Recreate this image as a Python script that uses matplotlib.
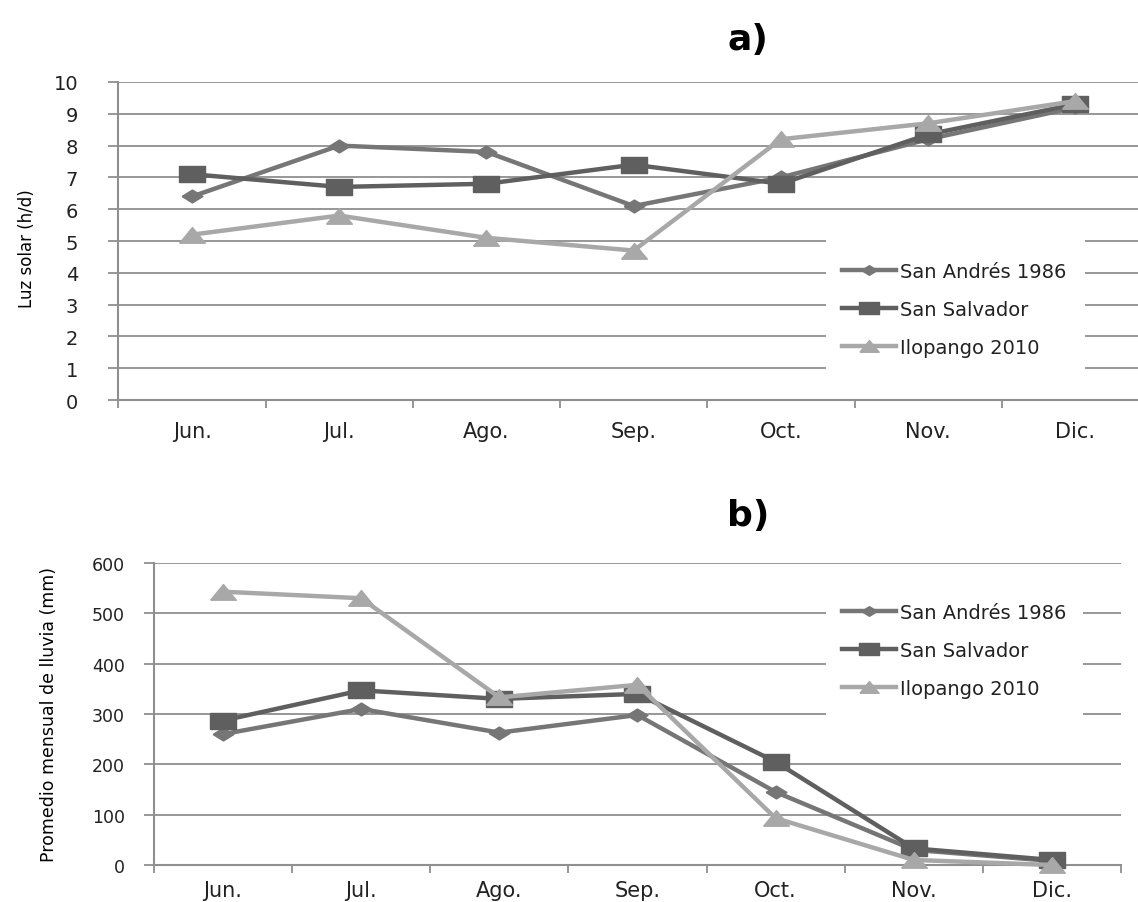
import matplotlib
matplotlib.use("Agg")
import matplotlib.pyplot as plt
from matplotlib.patches import Rectangle

months = ["Jun.", "Jul.", "Ago.", "Sep.", "Oct.", "Nov.", "Dic."]
series_names = ["San Andrés 1986", "San Salvador", "Ilopango 2010"]

sun_san_andres = [6.4, 8.0, 7.8, 6.1, 7.0, 8.2, 9.2]
sun_san_salvador = [7.1, 6.7, 6.8, 7.4, 6.8, 8.35, 9.3]
sun_ilopango = [5.2, 5.8, 5.1, 4.7, 8.2, 8.7, 9.4]

rain_san_andres = [260, 310, 263, 298, 145, 30, 8]
rain_san_salvador = [287, 347, 330, 340, 205, 33, 10]
rain_ilopango = [543, 530, 333, 358, 93, 10, 0]

colors = ["#767676", "#5f5f5f", "#a8a8a8"]
# markers are drawn wide (the original figure is horizontally stretched)
diamond = [(-1, 0), (0, 0.62), (1, 0), (0, -0.62), (-1, 0)]
square = [(-1, -0.66), (1, -0.66), (1, 0.66), (-1, 0.66), (-1, -0.66)]
triangle = [(-1, -0.6), (1, -0.6), (0, 0.62), (-1, -0.6)]
markers = [diamond, square, triangle]
msizes = [15, 18.5, 18.5]

GRID = "#8f8f8f"

fig = plt.figure(figsize=(11.38, 9.03), dpi=100)
x = list(range(len(months)))


def style_axes(ax, ymax, ystep, ylabsize, ypad, xpad):
    ax.set_xlim(-0.5, 6.5)
    ax.set_ylim(0, ymax)
    ax.set_yticks(list(range(0, ymax + 1, ystep)))
    ax.set_xticks([i - 0.5 for i in range(8)])
    ax.set_xticklabels([])
    ax.set_xticks(x, minor=True)
    ax.set_xticklabels(months, minor=True)
    ax.tick_params(axis="x", which="minor", length=0, pad=xpad, labelsize=15, colors="#222222")
    ax.tick_params(axis="x", which="major", length=6, direction="out", color=GRID, width=1.3)
    ax.tick_params(axis="y", length=7, direction="out", color=GRID, width=1.3,
                   labelsize=ylabsize, labelcolor="#222222", pad=ypad)
    ax.grid(axis="y", color=GRID, linewidth=1.3)
    ax.set_axisbelow(True)
    for s in ["top", "right"]:
        ax.spines[s].set_visible(False)
    for s in ["left", "bottom"]:
        ax.spines[s].set_color(GRID)
        ax.spines[s].set_linewidth(1.5)


def add_legend(ax, handles, labels, cx, cy, box):
    bx0, by0, bx1, by1 = box
    rect = Rectangle((bx0 / 1138, 1 - by1 / 903), (bx1 - bx0) / 1138, (by1 - by0) / 903,
                     transform=fig.transFigure, facecolor="white", edgecolor="none",
                     zorder=1, clip_on=False)
    ax.add_patch(rect)
    leg = ax.legend(handles, labels, loc="center left", bbox_to_anchor=(cx / 1138, 1 - cy / 903),
                    bbox_transform=fig.transFigure, frameon=False, fontsize=14,
                    handlelength=2.8, handletextpad=0.2, labelspacing=0.98,
                    borderpad=0, borderaxespad=0, markerscale=0.75)
    for t in leg.get_texts():
        t.set_color("#222222")
    return leg


# ---- a) ----
ax1 = fig.add_axes([0.1041, 0.5559, 0.9055, 0.3522])
h1 = []
for vals, c, m, ms in zip([sun_san_andres, sun_san_salvador, sun_ilopango], colors, markers, msizes):
    ln, = ax1.plot(x, vals, color=c, marker=m, markersize=ms, linewidth=3.2, clip_on=False, zorder=3)
    h1.append(ln)
style_axes(ax1, 10, 1, 14, 22, 15)
ax1.set_ylabel("Luz solar (h/d)", fontsize=12)
ax1.yaxis.set_label_coords((36 - 118.5) / 1031.5, 0.48)
add_legend(ax1, h1, series_names, 842, 310.5, (826, 234, 1085, 380))
fig.text(748 / 1138, 1 - 40 / 903, "a)", fontsize=26, fontweight="bold", ha="center", va="center")

# ---- b) ----
ax2 = fig.add_axes([0.1353, 0.0410, 0.8497, 0.3344])
h2 = []
for vals, c, m, ms in zip([rain_san_andres, rain_san_salvador, rain_ilopango], colors, markers, msizes):
    ln, = ax2.plot(x, vals, color=c, marker=m, markersize=ms, linewidth=3.2, clip_on=False, zorder=3)
    h2.append(ln)
style_axes(ax2, 600, 100, 12.5, 14, 11)
ax2.set_ylabel("Promedio mensual de lluvia (mm)", fontsize=12.5)
ax2.yaxis.set_label_coords((58 - 154) / 967, 0.5)
add_legend(ax2, h2, series_names, 842, 651.5, (826, 590, 1083, 740))
fig.text(748 / 1138, 1 - 516 / 903, "b)", fontsize=26, fontweight="bold", ha="center", va="center")

fig.savefig("out.png", dpi=100)
